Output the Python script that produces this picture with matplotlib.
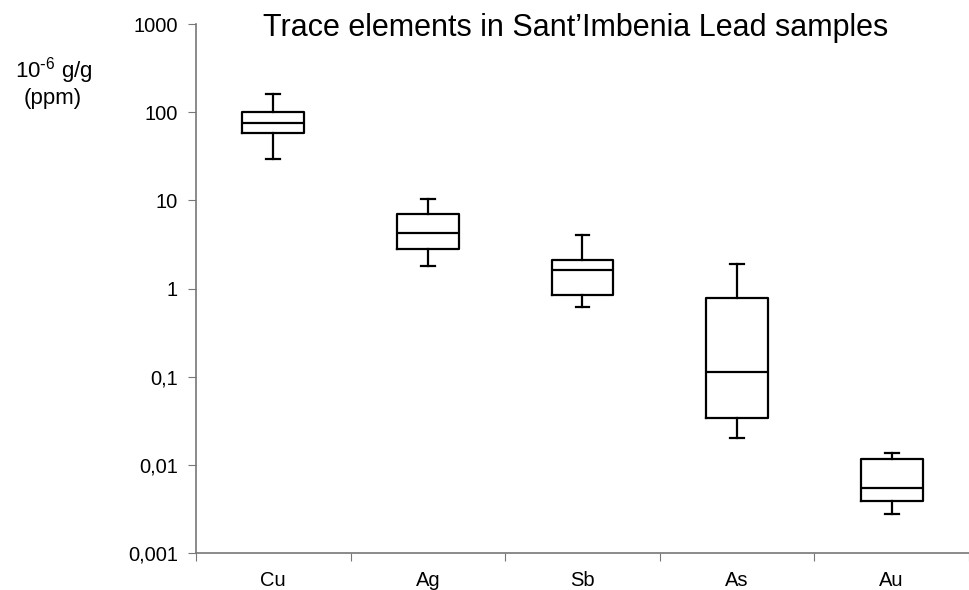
import matplotlib.pyplot as plt
from matplotlib.ticker import FixedLocator, FuncFormatter

plt.rcParams['font.family'] = ['Liberation Sans', 'DejaVu Sans']
plt.rcParams['mathtext.default'] = 'regular'

# valori (ppm)
elementi = ["Cu", "Ag", "Sb", "As", "Au"]
wh_basso = [29.6, 1.82, 0.61, 0.020, 0.0028]
q1 = [58.3, 2.83, 0.85, 0.0336, 0.00386]
mediana = [75.7, 4.3, 1.64, 0.112, 0.00542]
q3 = [100.0, 7.05, 2.12, 0.788, 0.0115]
wh_alto = [161.0, 10.4, 4.07, 1.91, 0.0135]

stats = []
for i in range(len(elementi)):
    stats.append({
        "label": elementi[i],
        "whislo": wh_basso[i],
        "q1": q1[i],
        "med": mediana[i],
        "q3": q3[i],
        "whishi": wh_alto[i],
        "fliers": [],
    })

fig = plt.figure(figsize=(9.7, 5.9), dpi=100)
ax = fig.add_axes([196 / 970, 1 - 553 / 590, (969 - 196) / 970, (553 - 24) / 590])

posizioni = range(1, len(elementi) + 1)
ax.bxp(stats, positions=posizioni, widths=0.4, capwidths=0.09, showfliers=False,
       boxprops=dict(color="black", linewidth=1.6),
       medianprops=dict(color="black", linewidth=1.6),
       whiskerprops=dict(color="black", linewidth=1.6),
       capprops=dict(color="black", linewidth=1.6))

ax.set_yscale("log")
ax.set_ylim(0.001, 1000)
ax.set_xlim(0.5, len(elementi) + 0.5)

etichette_y = ["0,001", "0,01", "0,1", "1", "10", "100", "1000"]
valori_y = [0.001, 0.01, 0.1, 1, 10, 100, 1000]
ax.yaxis.set_major_locator(FixedLocator(valori_y))
ax.yaxis.set_minor_locator(FixedLocator([]))
ax.yaxis.set_major_formatter(FuncFormatter(lambda v, p: etichette_y[valori_y.index(v)] if v in valori_y else ""))

# tacche ai confini delle categorie, etichette al centro
ax.set_xticks([p + 0.5 for p in range(len(elementi) + 1)])
ax.set_xticklabels([])
ax.set_xticks(list(posizioni), minor=True)
ax.set_xticklabels(elementi, minor=True)
ax.tick_params(axis="x", which="minor", length=0, pad=13, labelsize=14.5)
ax.tick_params(axis="x", which="major", length=6, color="#777777", direction="out")
ax.tick_params(axis="y", length=6, color="#777777", labelsize=14.5, pad=7)

for lato in ["top", "right"]:
    ax.spines[lato].set_visible(False)
for lato in ["left", "bottom"]:
    ax.spines[lato].set_color("#777777")
    ax.spines[lato].set_linewidth(1.2)

fig.text(0.593, 1 - 36 / 590, "Trace elements in Sant\u2019Imbenia Lead samples",
         ha="center", va="baseline", fontsize=22)
fig.text(54 / 970, 1 - 77 / 590, r"10$^{\text{-}6}$ g/g", ha="center", va="baseline", fontsize=16)
fig.text(53 / 970, 1 - 104 / 590, "(ppm)", ha="center", va="baseline", fontsize=16)

fig.savefig("out.png", dpi=100)
